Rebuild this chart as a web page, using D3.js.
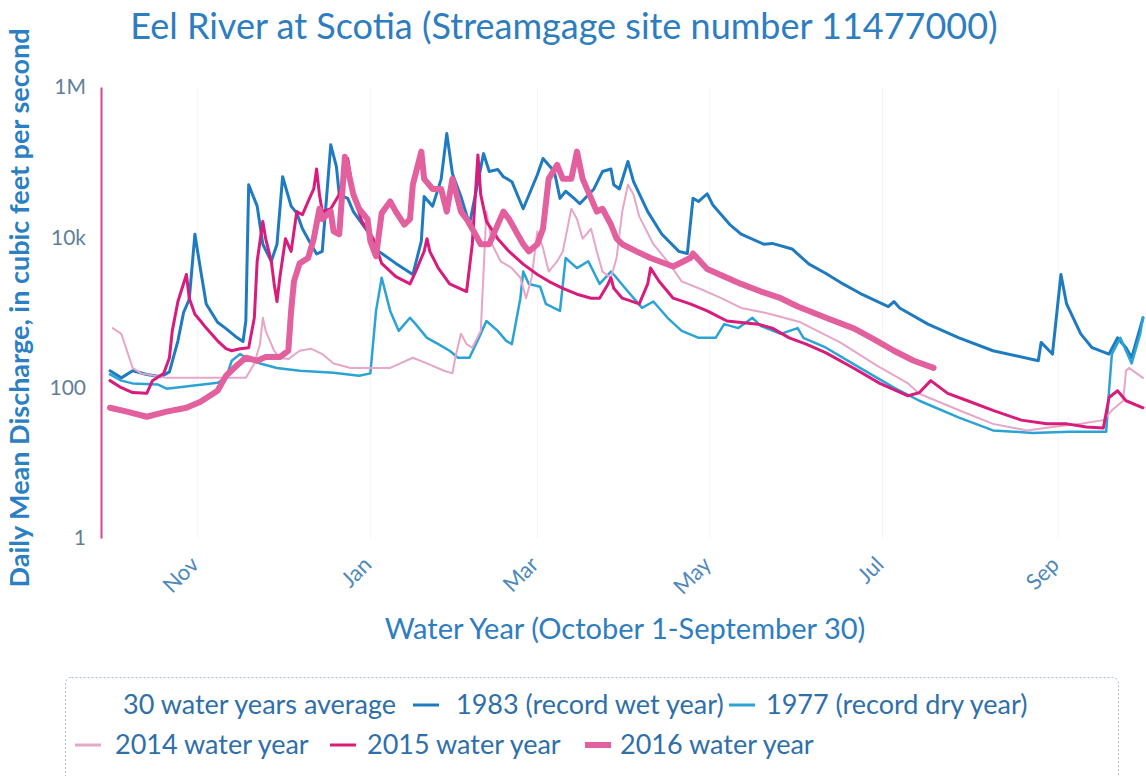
<!DOCTYPE html>
<html>
<head>
<meta charset="utf-8">
<script src="https://cdn.jsdelivr.net/npm/d3@7/dist/d3.min.js"></script>
<style>
  body { margin: 0; background: #fff; }
  svg { display: block; font-family: Lato, "Open Sans", sans-serif; }
</style>
</head>
<body>
<svg id="chart"></svg>
<script>
// daily mean discharge as [day of water year, cfs]
var avg30 = []; // no visible line in the source picture

var wet1983 = [[0,168],[4,135],[8,168],[13,150],[18,140],[21,162],[24,420],[26,1000],[28,1500],[30,11000],[32,3700],[34,1300],[38,740],[41,610],[45,460],[47,410],[48,770],[49,50000],[52,26000],[54,8100],[57,4800],[59,8100],[61,64000],[64,26000],[66,21000],[68,13000],[71,8100],[73,6000],[75,6500],[78,170000],[80,87000],[81,37000],[84,33000],[86,22000],[91,12000],[95,6500],[101,4500],[107,3200],[110,8900],[111,35000],[114,26000],[117,59000],[119,240000],[121,70000],[124,35000],[127,14800],[132,130000],[134,75000],[137,80000],[139,64000],[142,55000],[146,24000],[151,68000],[153,112000],[157,75000],[159,33000],[161,41000],[164,33000],[166,28000],[171,44000],[174,75000],[177,81000],[178,50000],[180,44000],[183,102000],[185,55000],[190,22000],[195,11000],[201,6500],[204,6100],[206,33000],[208,30000],[211,38000],[213,27000],[219,14800],[223,11000],[231,8100],[234,8300],[241,7000],[247,4400],[253,3300],[259,2400],[265,1800],[275,1200],[277,1400],[279,1150],[289,700],[300,460],[312,310],[328,228],[329,400],[333,280],[336,3200],[338,1300],[343,520],[347,340],[353,280],[356,460],[359,340],[361,250],[365,850]];

var dry1977 = [[0,150],[4,124],[8,114],[17,110],[20,97],[29,106],[38,116],[41,135],[43,228],[46,280],[48,250],[53,210],[59,183],[67,168],[79,158],[88,144],[92,155],[94,1050],[96,2900],[99,1050],[102,570],[106,850],[108,700],[112,460],[116,380],[120,310],[123,250],[127,250],[131,520],[133,770],[137,570],[140,420],[142,380],[145,1550],[146,3500],[148,2400],[152,2200],[154,1300],[159,1050],[161,5300],[165,3900],[169,4800],[173,2400],[177,3500],[178,3200],[183,1900],[188,1150],[192,1400],[197,850],[202,570],[208,460],[214,460],[217,700],[222,620],[227,850],[230,660],[237,520],[243,620],[245,460],[253,340],[265,183],[277,100],[286,67],[300,40],[312,27],[326,25],[339,26],[352,26],[353,91],[354,280],[357,460],[359,310],[361,210],[364,520],[365,850]];

var wy2014 = [[1,620],[4,520],[6,310],[8,183],[11,155],[20,135],[29,135],[38,135],[48,135],[51,210],[53,380],[54,850],[55,570],[58,310],[60,250],[63,240],[67,310],[71,330],[75,280],[79,210],[85,183],[91,183],[99,183],[107,250],[112,210],[118,168],[121,155],[122,250],[124,520],[126,380],[128,340],[131,570],[133,22000],[135,8100],[138,4800],[142,3900],[145,2900],[147,1550],[149,2900],[151,12000],[153,7200],[155,3500],[158,4800],[160,6500],[163,24000],[165,17500],[167,9600],[170,13000],[172,6500],[174,3500],[177,2900],[179,5300],[181,22000],[183,50000],[185,37000],[187,19000],[192,8100],[197,4800],[202,2600],[208,2100],[216,1550],[223,1150],[231,1000],[236,900],[244,740],[258,400],[271,196],[282,114],[286,83],[300,50],[312,33],[324,27],[333,30],[343,33],[351,37],[354,50],[358,67],[359,168],[360,183],[365,135]];

var wy2015 = [[0,124],[4,100],[8,86],[13,84],[15,124],[19,155],[21,250],[22,570],[24,1400],[27,3200],[28,1550],[30,950],[32,770],[34,620],[38,420],[41,330],[43,310],[46,330],[49,340],[51,850],[52,4800],[54,16300],[55,9600],[57,4800],[58,2400],[59,1400],[60,2900],[62,9600],[64,6500],[66,22000],[68,20000],[70,30000],[72,44000],[73,81000],[74,37000],[75,22000],[78,24000],[81,37000],[84,112000],[86,37000],[89,16300],[93,9600],[96,4500],[101,3000],[106,2400],[108,3500],[111,6500],[112,9600],[113,6500],[116,3900],[120,2400],[126,1900],[128,8100],[130,125000],[131,37000],[133,16300],[137,9600],[141,6500],[146,4400],[151,3200],[155,2600],[160,2100],[165,1750],[170,1550],[173,1550],[176,2400],[177,2900],[178,2100],[181,1550],[187,1300],[190,2400],[191,3900],[194,2600],[199,1550],[205,1300],[211,1050],[218,770],[229,700],[234,620],[240,460],[246,380],[253,290],[263,180],[272,114],[282,78],[286,86],[290,124],[296,84],[303,67],[312,50],[322,37],[331,33],[338,33],[345,30],[351,29],[353,74],[356,91],[359,67],[365,54]];

var wy2016 = [[0,54],[6,48],[13,41],[20,48],[27,54],[32,65],[38,91],[41,144],[45,200],[48,250],[52,228],[55,255],[60,255],[63,310],[64,1050],[65,2600],[67,4500],[70,5300],[72,9600],[74,24000],[75,17500],[78,22000],[79,12000],[81,11000],[83,118000],[86,37000],[88,24000],[91,17500],[92,8900],[94,5600],[96,21000],[99,30000],[101,22000],[104,14800],[106,17500],[107,50000],[110,138000],[111,60000],[114,44000],[117,44000],[119,22000],[121,60000],[124,22000],[126,17500],[128,13000],[131,8100],[134,8100],[139,22000],[141,17500],[144,11000],[146,8100],[148,6500],[151,8100],[153,13000],[155,60000],[158,92000],[160,60000],[163,60000],[165,138000],[167,60000],[170,33000],[172,22000],[174,24000],[177,14800],[179,9600],[181,8100],[186,6500],[191,5300],[199,4100],[205,5300],[206,6100],[211,3800],[218,2900],[223,2400],[230,1900],[237,1550],[243,1200],[253,850],[263,610],[270,440],[277,310],[284,228],[291,183]];

var seriesNames = ['30 water years average', '1983 (record wet year)', '1977 (record dry year)', '2014 water year', '2015 water year', '2016 water year'];
var seriesData = [avg30, wet1983, dry1977, wy2014, wy2015, wy2016];
var seriesColors = ['#ffffff', '#1f7bc0', '#2ba3d4', '#e7a6c8', '#d81c7c', '#e3609f'];
var seriesWidths = [2, 3, 2.5, 2, 3, 6];

var yTickValues = [1, 100, 10000, 1000000];
var yTickLabels = ['1', '100', '10k', '1M'];

var width = 1146;
var height = 776;

var svg = d3.select('#chart')
  .attr('width', width)
  .attr('height', height);

// water year: Oct 1 - Sep 30
var wyStart = new Date(Date.UTC(2014, 9, 1));
function dayToDate(d) {
  return d3.utcDay.offset(wyStart, d);
}

var x = d3.scaleUtc()
  .domain([wyStart, d3.utcDay.offset(wyStart, 365)])
  .range([110, 1143]);

var y = d3.scaleLog()
  .domain([1, 1000000])
  .range([538, 87]);

// faint month grid
var monthTicks = x.ticks(d3.utcMonth.every(2));
svg.append('g')
  .selectAll('line')
  .data(monthTicks)
  .enter().append('line')
    .attr('x1', function(d) { return x(d); })
    .attr('x2', function(d) { return x(d); })
    .attr('y1', 88)
    .attr('y2', 538)
    .attr('stroke', '#f4f4f4')
    .attr('stroke-width', 1);

svg.append('defs').append('clipPath')
    .attr('id', 'plot-clip')
  .append('rect')
    .attr('x', 102)
    .attr('y', 80)
    .attr('width', 1044)
    .attr('height', 462);

var line = d3.line()
  .x(function(d) { return x(dayToDate(d[0])); })
  .y(function(d) { return y(d[1]); });

svg.append('g')
    .attr('clip-path', 'url(#plot-clip)')
  .selectAll('path')
  .data(seriesData)
  .enter().append('path')
    .attr('d', function(d) { return d.length ? line(d) : null; })
    .attr('fill', 'none')
    .attr('stroke', function(d, i) { return seriesColors[i]; })
    .attr('stroke-width', function(d, i) { return seriesWidths[i]; })
    .attr('stroke-linejoin', 'round')
    .attr('stroke-linecap', 'round');

// y axis
var yAxis = svg.append('g')
  .attr('transform', 'translate(101,0)')
  .call(d3.axisLeft(y)
    .tickValues(yTickValues)
    .tickFormat(function(d, i) { return yTickLabels[i]; })
    .tickSize(0)
    .tickPadding(15));
yAxis.select('.domain')
  .attr('stroke', '#d4458c')
  .attr('stroke-width', 2);
yAxis.selectAll('text')
  .attr('fill', '#5f7f99')
  .style('font-size', '21px')
  .style('font-family', 'Lato, sans-serif');

// x axis labels, rotated
var xAxis = svg.append('g')
  .attr('transform', 'translate(0,548)')
  .call(d3.axisBottom(x)
    .ticks(d3.utcMonth.every(2))
    .tickFormat(d3.utcFormat('%b'))
    .tickSize(0));
xAxis.select('.domain').remove();
xAxis.selectAll('text')
  .attr('fill', '#4f88bb')
  .style('font-size', '22px')
  .style('font-family', 'Lato, sans-serif')
  .attr('text-anchor', 'end')
  .attr('x', 0)
  .attr('y', 0)
  .attr('dy', 0)
  .attr('transform', 'translate(2,18) rotate(-45)');

// titles
svg.append('text')
  .attr('x', 564)
  .attr('y', 39)
  .attr('text-anchor', 'middle')
  .attr('fill', '#2e7dbf')
  .style('font-size', '36px')
  .text('Eel River at Scotia (Streamgage site number 11477000)');

svg.append('text')
  .attr('transform', 'translate(29,308) rotate(-90)')
  .attr('text-anchor', 'middle')
  .attr('fill', '#2b7fc2')
  .style('font-size', '27px')
  .style('font-weight', 'bold')
  .text('Daily Mean Discharge, in cubic feet per second');

svg.append('text')
  .attr('x', 625)
  .attr('y', 639)
  .attr('text-anchor', 'middle')
  .attr('fill', '#2e7dbf')
  .style('font-size', '29px')
  .text('Water Year (October 1-September 30)');

// legend
var legendPos = [
  {mx: 90, tx: 123, ty: 705},
  {mx: 413, tx: 456, ty: 705},
  {mx: 729, tx: 766, ty: 705},
  {mx: 75, tx: 115, ty: 745},
  {mx: 330, tx: 367, ty: 745},
  {mx: 585, tx: 620, ty: 745}
];

var legend = svg.append('g');
legend.append('rect')
  .attr('x', 65.5)
  .attr('y', 677.5)
  .attr('width', 1053)
  .attr('height', 120)
  .attr('rx', 6)
  .attr('fill', 'none')
  .attr('stroke', '#a9bccb')
  .attr('stroke-dasharray', '2,2');

var items = legend.selectAll('g.item')
  .data(seriesNames)
  .enter().append('g')
    .attr('class', 'item');

items.append('line')
  .attr('x1', function(d, i) { return legendPos[i].mx; })
  .attr('x2', function(d, i) { return legendPos[i].mx + 26; })
  .attr('y1', function(d, i) { return legendPos[i].ty; })
  .attr('y2', function(d, i) { return legendPos[i].ty; })
  .attr('stroke', function(d, i) { return seriesColors[i]; })
  .attr('stroke-width', function(d, i) { return Math.max(seriesWidths[i], 3); });

items.append('text')
  .attr('x', function(d, i) { return legendPos[i].tx; })
  .attr('y', function(d, i) { return legendPos[i].ty; })
  .attr('dy', '0.35em')
  .attr('fill', '#2f6fa9')
  .style('font-size', '27px')
  .text(function(d) { return d; });
</script>
</body>
</html>
